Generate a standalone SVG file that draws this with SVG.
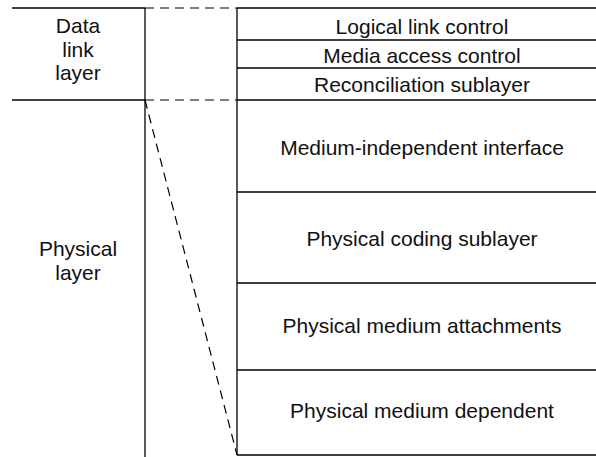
<svg xmlns="http://www.w3.org/2000/svg" width="596" height="457" viewBox="0 0 596 457">
<style>
.ln{stroke:#000;stroke-width:1.3;fill:none}
.ds{stroke:#000;stroke-width:1.2;fill:none;stroke-dasharray:9,6}
text{font-family:"Liberation Sans",Arial,Helvetica,sans-serif;font-size:21px;fill:#111;text-anchor:middle}
</style>
<rect width="596" height="457" fill="#fff"/>
<g id="connectors">
<line class="ln" x1="12" y1="8" x2="145" y2="8"/>
<line class="ln" x1="12" y1="100" x2="145" y2="100"/>
<line class="ln" x1="145" y1="8" x2="145" y2="457"/>
<line class="ds" x1="145" y1="8" x2="237" y2="8"/>
<line class="ds" x1="145" y1="100" x2="237" y2="100"/>
<line class="ds" x1="145" y1="100" x2="237" y2="455"/>
</g>
<g id="data-link-layer">
<text x="78" y="33">Data</text>
<text x="78" y="57">link</text>
<text x="78" y="80">layer</text>
</g>
<g id="physical-layer">
<text x="78" y="256">Physical</text>
<text x="78" y="280">layer</text>
</g>
<g id="stack">
<line class="ln" x1="237" y1="8" x2="237" y2="455"/>
<line class="ln" x1="237" y1="8" x2="596" y2="8"/>
<line class="ln" x1="237" y1="40" x2="596" y2="40"/>
<line class="ln" x1="237" y1="68" x2="596" y2="68"/>
<line class="ln" x1="237" y1="100" x2="596" y2="100"/>
<line class="ln" x1="237" y1="192" x2="596" y2="192"/>
<line class="ln" x1="237" y1="283" x2="596" y2="283"/>
<line class="ln" x1="237" y1="370" x2="596" y2="370"/>
<line class="ln" x1="237" y1="455" x2="596" y2="455"/>
</g>
<g id="llc"><text x="422" y="34">Logical link control</text></g>
<g id="mac"><text x="422" y="63">Media access control</text></g>
<g id="rs"><text x="422" y="92">Reconciliation sublayer</text></g>
<g id="mii"><text x="422" y="155">Medium-independent interface</text></g>
<g id="pcs"><text x="422" y="246">Physical coding sublayer</text></g>
<g id="pma"><text x="422" y="333">Physical medium attachments</text></g>
<g id="pmd"><text x="422" y="418">Physical medium dependent</text></g>
</svg>
